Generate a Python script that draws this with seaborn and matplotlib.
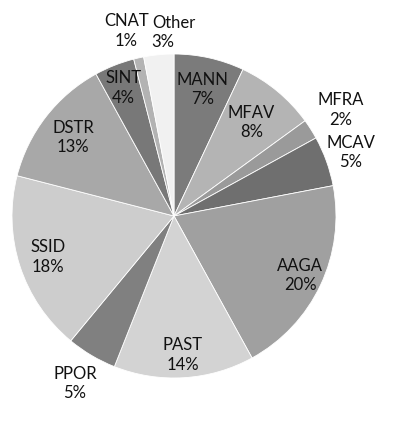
import numpy as np
import matplotlib
matplotlib.use("Agg")
import matplotlib.pyplot as plt
import seaborn as sns

# species share of coral cover (%)
species = ["MANN", "MFAV", "MFRA", "MCAV", "AAGA", "PAST",
           "PPOR", "SSID", "DSTR", "SINT", "CNAT", "Other"]
shares = [7, 8, 2, 5, 20, 14, 5, 18, 13, 4, 1, 3]
greys = ["#7b7b7b", "#b4b4b4", "#9a9a9a", "#6f6f6f", "#a0a0a0", "#d3d3d3",
         "#808080", "#cdcdcd", "#a8a8a8", "#787878", "#b3b3b3", "#f1f1f1"]

# how far out each label sits (in radii); small slices get labels outside
label_dist = [0.80, 0.75, 1.22, 1.16, 0.86, 0.86,
              1.20, 0.82, 0.79, 0.85, 1.17, 1.14]
# small sideways nudges so the two top labels do not collide
label_nudge = [0, 0, 0, 0, 0, 0, 0, 0, 0, 0, -0.04, -0.03]

sns.set_theme(style="white")
plt.rcParams["font.family"] = ["Lato", "DejaVu Sans"]

fig = plt.figure(figsize=(3.94, 4.21), dpi=100)
ax = fig.add_axes([0, 0, 1, 1])

wedges, _ = ax.pie(
    shares,
    colors=greys,
    startangle=90,
    counterclock=False,
    radius=1.0,
    wedgeprops=dict(edgecolor="white", linewidth=0.6),
)

for i, (w, name, pct) in enumerate(zip(wedges, species, shares)):
    mid = np.deg2rad((w.theta1 + w.theta2) / 2)
    x = label_dist[i] * np.cos(mid)
    y = label_dist[i] * np.sin(mid)
    ha = "left" if name == "Other" else "center"
    ax.text(x + label_nudge[i], y, f"{name}\n{pct}%", ha=ha, va="center",
            fontsize=12, color="#111111", linespacing=1.25)

# keep the pie at the same place and size as the original
ax.set_xlim(-174 / 162, (394 - 174) / 162)
ax.set_ylim(-(421 - 216) / 162, 216 / 162)
ax.set_aspect("equal")
ax.axis("off")

fig.savefig("out.png", dpi=100, facecolor="white")
